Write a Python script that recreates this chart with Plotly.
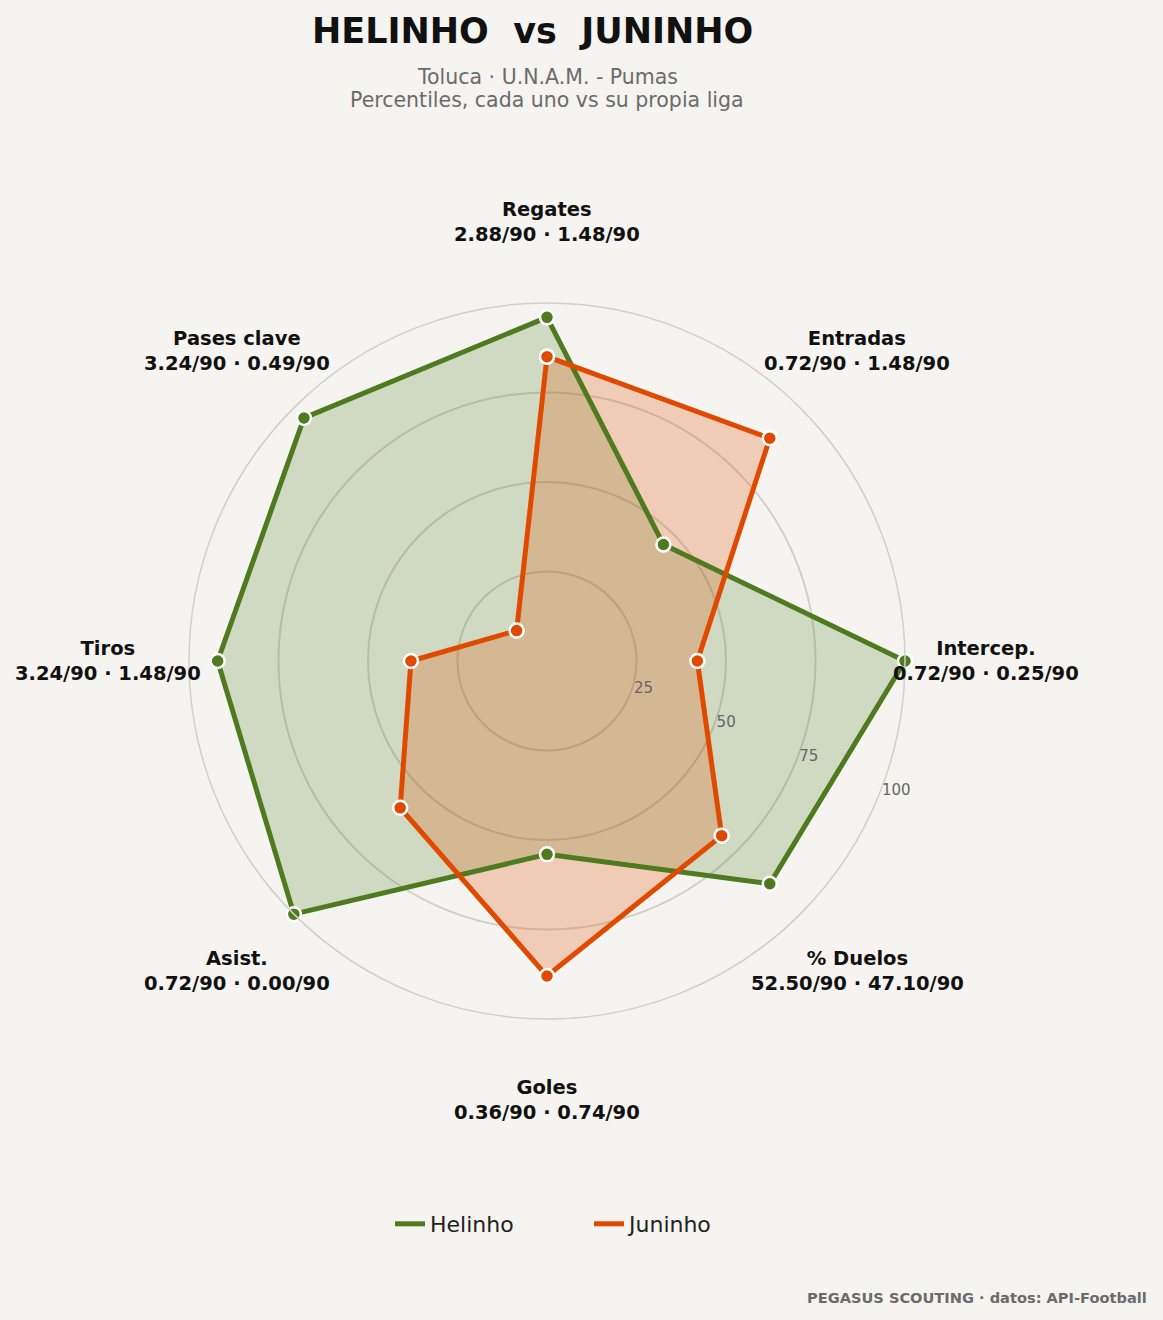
import math
import plotly.graph_objects as go

# ---- data ----
categories = ["Regates", "Entradas", "Intercep.", "% Duelos", "Goles", "Asist.", "Tiros", "Pases clave"]
helinho_pct = [96, 46, 100, 88, 54, 100, 92, 96]
juninho_pct = [85, 88, 42, 69, 88, 58, 38, 12]
helinho_p90 = ["2.88/90", "0.72/90", "0.72/90", "52.50/90", "0.36/90", "0.72/90", "3.24/90", "3.24/90"]
juninho_p90 = ["1.48/90", "1.48/90", "0.25/90", "47.10/90", "0.74/90", "0.00/90", "1.48/90", "0.49/90"]
players = ["Helinho", "Juninho"]
radial_ticks = [25, 50, 75, 100]

# ---- styles ----
BG = "#f5f4f0"
GREEN = "#4f7a1f"
ORANGE = "#e04a00"
GREEN_FILL = "rgba(79,122,31,0.22)"
ORANGE_FILL = "rgba(224,74,0,0.24)"
GRID = "#d3d0c9"
FONT = "DejaVu Sans"
LABEL_R = 1.225  # label distance as fraction of the outer radius

W, H = 1163, 1320
CX, CY, R = 547, 661, 358

fig = go.Figure()

def closed(v):
    return list(v) + [v[0]]

# fills underneath
for vals, fc in [(helinho_pct, GREEN_FILL), (juninho_pct, ORANGE_FILL)]:
    fig.add_trace(go.Scatterpolar(
        r=closed(vals), theta=closed(categories), mode="lines", fill="toself",
        fillcolor=fc, line=dict(width=0, color="rgba(0,0,0,0)"),
        showlegend=False, hoverinfo="skip",
    ))

# lines + markers on top
for vals, col, name in [(helinho_pct, GREEN, players[0]), (juninho_pct, ORANGE, players[1])]:
    fig.add_trace(go.Scatterpolar(
        r=closed(vals), theta=closed(categories), name=name, mode="lines+markers",
        line=dict(color=col, width=5),
        marker=dict(size=14, color=col, line=dict(color="white", width=2.5)),
        showlegend=False,
    ))

# legend-only entries (plain line sample)
for col, name in [(GREEN, players[0]), (ORANGE, players[1])]:
    fig.add_trace(go.Scatterpolar(r=[None], theta=[None], name=name, mode="lines",
                                  line=dict(color=col, width=5), showlegend=True))

# category labels around the chart
annotations = []
n = len(categories)
for i, (c, a, b) in enumerate(zip(categories, helinho_p90, juninho_p90)):
    ang = math.radians(90 - i * 360 / n)
    px = CX + LABEL_R * R * math.cos(ang)
    py = CY - LABEL_R * R * math.sin(ang)
    annotations.append(dict(
        text=f"<b>{c}<br>{a} · {b}</b>", x=px / W, y=1 - py / H, xref="paper", yref="paper",
        showarrow=False, xanchor="center", yanchor="middle", align="center",
        font=dict(family=FONT, size=19.5, color="#111111"),
    ))

annotations += [
    dict(text="<b>HELINHO\u00a0 vs \u00a0JUNINHO</b>", x=532 / W, y=1 - 31 / H, xref="paper", yref="paper",
         showarrow=False, font=dict(family=FONT, size=35, color="#111111"), xanchor="center", yanchor="middle"),
    dict(text="Toluca · U.N.A.M. - Pumas", x=CX / W, y=1 - 77 / H,
         xref="paper", yref="paper", showarrow=False, font=dict(family=FONT, size=20.5, color="#6b6b6b"),
         xanchor="center", yanchor="middle"),
    dict(text="Percentiles, cada uno vs su propia liga", x=CX / W, y=1 - 100 / H,
         xref="paper", yref="paper", showarrow=False, font=dict(family=FONT, size=20.5, color="#6b6b6b"),
         xanchor="center", yanchor="middle"),
    dict(text="<b>PEGASUS SCOUTING · datos: API-Football</b>", x=1 - 14 / W, y=1 - 1297 / H,
         xref="paper", yref="paper", showarrow=False, font=dict(family=FONT, size=14.6, color="#6b6b6b"),
         xanchor="right", yanchor="middle"),
]

fig.update_layout(
    width=W, height=H,
    paper_bgcolor=BG, plot_bgcolor=BG,
    margin=dict(l=0, r=0, t=0, b=0),
    font=dict(family=FONT, color="#111111"),
    polar=dict(
        bgcolor=BG,
        domain=dict(x=[(CX - R) / W, (CX + R) / W], y=[(H - CY - R) / H, (H - CY + R) / H]),
        angularaxis=dict(rotation=90, direction="clockwise", showgrid=False,
                         showticklabels=False, ticks="", showline=True,
                         linecolor=GRID, linewidth=1.5),
        radialaxis=dict(range=[0, 100], tickvals=radial_ticks, ticktext=[str(t) for t in radial_ticks],
                        angle=-22.5, tickangle=-22.5, side="counterclockwise",
                        showline=False, ticks="",
                        gridcolor=GRID, gridwidth=1.5,
                        tickfont=dict(family=FONT, size=15, color="#666666")),
    ),
    legend=dict(orientation="h", x=390 / W, xanchor="left", y=(H - 1224) / H, yanchor="middle",
                font=dict(family=FONT, size=22, color="#222222"),
                entrywidth=154, entrywidthmode="pixels",
                bgcolor="rgba(0,0,0,0)"),
    annotations=annotations,
)

fig.write_html("out.html", config={"displayModeBar": False},
               post_script="document.body.style.margin='0';document.body.style.background='#f5f4f0';")
